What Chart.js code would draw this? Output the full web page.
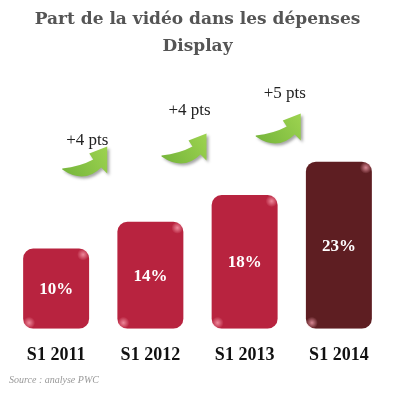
<!DOCTYPE html>
<html>
<head>
<meta charset="utf-8">
<script src="https://cdn.jsdelivr.net/npm/chart.js@4/dist/chart.umd.min.js"></script>
<style>
  html, body { margin: 0; padding: 0; background: #fff; }
  #wrap { width: 395px; height: 417px; }
</style>
</head>
<body>
<div id="wrap"><canvas id="videoChart"></canvas></div>
<script>
// Data
const periods = ["S1 2011", "S1 2012", "S1 2013", "S1 2014"];
const shares = [10, 14, 18, 23];          // % of display spend
const gains = ["+4 pts", "+4 pts", "+5 pts"]; // increase between periods

const barColors = ['#B8233F', '#B8233F', '#B8233F', '#5E1E22'];
const serif = '"Liberation Serif", "DejaVu Serif", serif';

// Curved green arrow, drawn in a 45x31 box
function drawArrow(ctx, left, top) {
  ctx.save();
  ctx.translate(left, top);
  const g = ctx.createLinearGradient(0, 31, 45, 0);
  g.addColorStop(0, '#74B43A');
  g.addColorStop(1, '#9DD350');
  ctx.fillStyle = g;
  ctx.shadowColor = 'rgba(0,0,0,0.35)';
  ctx.shadowBlur = 3;
  ctx.shadowOffsetX = 2;
  ctx.shadowOffsetY = 2;
  ctx.beginPath();
  ctx.moveTo(0, 22);
  ctx.quadraticCurveTo(18, 20, 31, 13);
  ctx.lineTo(27, 7);
  ctx.lineTo(45, 0);
  ctx.lineTo(45, 27);
  ctx.lineTo(39, 21);
  ctx.quadraticCurveTo(22, 38, 0, 23);
  ctx.closePath();
  ctx.fill();
  ctx.restore();
}

const extras = {
  id: 'extras',
  afterDatasetsDraw(chart) {
    const ctx = chart.ctx;
    const meta = chart.getDatasetMeta(0);
    const x = chart.scales.x;
    const top = chart.chartArea.top;

    // gloss on the bar corners
    meta.data.forEach(bar => {
      const l = bar.x - bar.width / 2, r = bar.x + bar.width / 2;
      [[r - 6, bar.y + 6], [l + 6, bar.base - 6]].forEach(([cx, cy]) => {
        const rg = ctx.createRadialGradient(cx, cy, 0, cx, cy, 6);
        rg.addColorStop(0, 'rgba(255,170,185,0.75)');
        rg.addColorStop(1, 'rgba(255,170,185,0)');
        ctx.fillStyle = rg;
        ctx.beginPath();
        ctx.arc(cx, cy, 6, 0, Math.PI * 2);
        ctx.fill();
      });
    });

    // values inside the bars
    ctx.save();
    ctx.fillStyle = '#fff';
    ctx.font = 'bold 17px ' + serif;
    ctx.textAlign = 'center';
    ctx.textBaseline = 'middle';
    meta.data.forEach((bar, i) => {
      ctx.fillText(shares[i] + '%', bar.x, (bar.y + bar.base) / 2 + 1);
    });
    ctx.restore();

    // arrows and gain labels between bars
    const arrowShift = [-41, -36, -36];
    const arrowDrop = [85, 72, 52];
    const labelLift = [6, 23, 20];
    const labelShift = [25, 28, 29];
    gains.forEach((txt, i) => {
      const mid = (x.getPixelForValue(i) + x.getPixelForValue(i + 1)) / 2;
      const aLeft = mid + arrowShift[i];
      const aTop = top + arrowDrop[i];
      drawArrow(ctx, aLeft, aTop);
      ctx.save();
      ctx.fillStyle = '#222';
      ctx.font = '17px ' + serif;
      ctx.textAlign = 'center';
      ctx.textBaseline = 'middle';
      ctx.fillText(txt, aLeft + labelShift[i], aTop - labelLift[i]);
      ctx.restore();
    });
  }
};

new Chart(document.getElementById('videoChart'), {
  type: 'bar',
  data: {
    labels: periods,
    datasets: [{
      data: shares,
      base: -2,
      backgroundColor: barColors,
      borderRadius: 10,
      borderSkipped: false,
      barPercentage: 0.7,
      categoryPercentage: 1
    }]
  },
  options: {
    responsive: true,
    maintainAspectRatio: false,
    animation: false,
    layout: { padding: { left: 9, right: 9, top: 0, bottom: 31 } },
    plugins: {
      legend: { display: false },
      tooltip: { enabled: false },
      title: {
        display: true,
        text: ['Part de la vidéo dans les dépenses', 'Display'],
        color: '#555',
        font: { family: '"DejaVu Serif", serif', size: 17, weight: 'bold', lineHeight: 1.6 },
        padding: { top: 6, bottom: 1 }
      },
      subtitle: {
        display: true,
        position: 'bottom',
        align: 'start',
        text: 'Source : analyse PWC',
        color: '#999',
        font: { family: serif, size: 10, style: 'italic' },
        padding: { top: -7, bottom: 0 }
      }
    },
    scales: {
      x: {
        grid: { display: false, drawTicks: false },
        border: { display: false },
        ticks: {
          color: '#111',
          padding: 18,
          font: { family: serif, size: 18, weight: 'bold', lineHeight: 0.9 }
        }
      },
      y: {
        display: false,
        min: -2,
        max: 38
      }
    }
  },
  plugins: [extras]
});
</script>
</body>
</html>
